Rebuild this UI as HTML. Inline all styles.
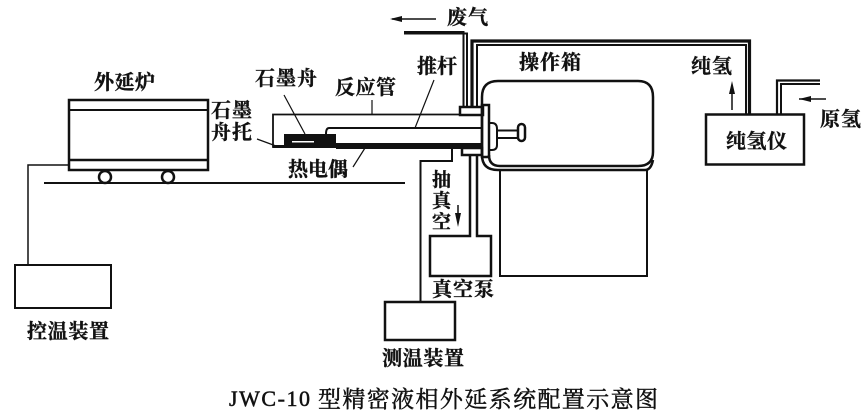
<!DOCTYPE html>
<html><head><meta charset="utf-8">
<style>
html,body{margin:0;padding:0;background:#fff;width:868px;height:412px;overflow:hidden}
svg{display:block}
text{font-family:"Liberation Serif","Noto Serif CJK SC",serif;fill:#111;font-weight:700;font-size:20px;stroke:#111;stroke-width:.35}
</style></head><body>
<svg width="868" height="412" viewBox="0 0 868 412" xmlns="http://www.w3.org/2000/svg">
<g fill="none" stroke="#111" stroke-width="2">
<!-- furnace -->
<rect x="69" y="100" width="139" height="70" stroke-width="2.5"/>
<line x1="69" y1="110" x2="208" y2="110"/>
<line x1="69" y1="160" x2="208" y2="160" stroke-width="2.5"/>
<circle cx="105" cy="177" r="6" stroke-width="2.5"/>
<circle cx="168" cy="177" r="6" stroke-width="2.5"/>
<line x1="44" y1="183" x2="405" y2="183"/>
<path d="M68 165H28V265" stroke-width="1.5"/>
<rect x="15" y="265" width="96" height="43"/>
<!-- reaction tube -->
<path d="M460 114.500H273V147H284" stroke-width="1.800"/>
<path d="M482 128H329Q326 128 326 134" stroke-width="2"/>
<!-- chamber -->
<path d="M482 155V97Q482 81 498 81H638Q653 81 653 97V152Q653 166 638 166H500Q489 166 489 155" stroke-width="2.500"/>
<path d="M482 155Q482 170 498 170H645Q651 170 653 160" stroke-width="2.500"/>
<path d="M500 170V276H647V170" stroke-width="2"/>
<!-- flange -->
<rect x="460" y="107" width="23" height="8" stroke-width="2.500"/>
<rect x="462" y="148" width="20" height="7" stroke-width="2.500"/>
<rect x="482" y="105" width="7" height="52" stroke-width="2.500"/>
<path d="M489 123H492Q497 123 497 129V145Q497 150 492 150H489" stroke-width="2"/>
<path d="M497 130.500H518M497 138H518" stroke-width="2"/>
<rect x="518" y="124" width="7" height="17" rx="3.500" stroke-width="2.500"/>
<!-- waste pipe -->
<path d="M404 32H463.500V107" stroke-width="2"/>
<path d="M404 33.500H467V107" stroke-width="2"/>
<!-- pure hydrogen pipe -->
<path d="M472 107V41H749.500V114" stroke-width="3.200"/>
<path d="M477 107V45H746V114" stroke-width="2"/>
<!-- source pipe -->
<path d="M777 114V80.500H820" stroke-width="2.200"/>
<path d="M781 114V84H820" stroke-width="2"/>
<!-- device -->
<rect x="706" y="114.500" width="98" height="50" stroke-width="2.500"/>
<!-- vacuum -->
<path d="M470 155V236H430V276H491V236H477V155" stroke-width="2.500"/>
<path d="M452 148V161H420.500V302" stroke-width="2"/>
<rect x="385" y="302" width="70" height="38" stroke-width="2.500"/>
<!-- leaders -->
<path d="M284 95L305 134M257 139L276 146M372 100V114M434 80L415 128M365 148L353 167" stroke-width="1.200"/>
<!-- arrow lines -->
<path d="M392 19H436M732 110V88M799 99H826M458 205V220" stroke-width="1.500"/>
</g>
<!-- solid parts -->
<rect x="284" y="134" width="52" height="14" fill="#111"/>
<rect x="292" y="141" width="22" height="1.500" fill="#fff"/>
<rect x="336" y="143" width="146" height="6" fill="#111"/>
<rect x="273" y="145" width="12" height="3" fill="#111"/>
<g fill="#111">
<path d="M390 19L402 16V22Z"/>
<path d="M732 81L729 94H735Z"/>
<path d="M799 99L811 96V102Z"/>
<path d="M458 227L455 213H461Z"/>
</g>
<!-- labels -->
<text x="94" y="89" textLength="61">外延炉</text>
<text x="255" y="85" textLength="62">石墨舟</text>
<text x="335" y="94" textLength="61">反应管</text>
<text x="211" y="117" textLength="41">石墨</text>
<text x="211" y="139" textLength="41">舟托</text>
<text x="417" y="73" textLength="40">推杆</text>
<text x="447" y="24" textLength="41">废气</text>
<text x="519" y="69" textLength="62">操作箱</text>
<text x="288" y="176" textLength="60">热电偶</text>
<text x="691" y="73" textLength="41">纯氢</text>
<text x="726" y="148" textLength="61">纯氢仪</text>
<text x="820" y="126" textLength="41">原氢</text>
<text x="432" y="186" style="font-size:19px">抽</text>
<text x="432" y="207" style="font-size:19px">真</text>
<text x="432" y="228" style="font-size:19px">空</text>
<text x="432" y="296" textLength="62">真空泵</text>
<text x="382" y="365" textLength="82">测温装置</text>
<text x="27" y="338" textLength="82">控温装置</text>
<text x="229" y="406" style="font-size:22px;font-weight:400;stroke-width:.5" textLength="81">JWC-10</text>
<text x="318" y="407" style="font-size:23px;font-weight:400;stroke-width:.45" textLength="340">型精密液相外延系统配置示意图</text>
</svg>
</body></html>
